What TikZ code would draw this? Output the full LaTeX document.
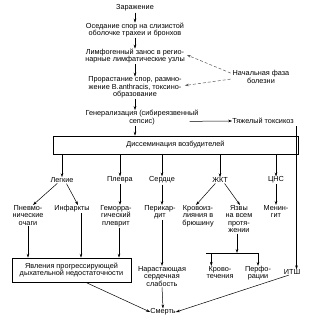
\documentclass[tikz,border=0pt]{standalone}
\usepackage{fontspec}
\setmainfont{Liberation Sans}
\usetikzlibrary{arrows.meta,calc}
\begin{document}
\begin{tikzpicture}[x=1pt,y=-1pt,
  txt/.style={font=\fontsize{7.3}{7.4}\selectfont, align=center, inner sep=0pt},
  arr/.style={-{Stealth[length=4pt,width=2.6pt]}, line width=0.5pt, shorten <=1pt},
  dsh/.style={arr, densely dashed, gray!70!black},
  boxed/.style={txt, draw, line width=0.5pt}
]
\useasboundingbox (0,0) rectangle (309,324);

\node[txt] (zar)  at (135,8)    {Заражение};
\node[txt] (osed) at (135,30)   {Оседание спор на слизистой\\оболочке трахеи и бронхов};
\node[txt] (limf) at (135,56)   {Лимфогенный занос в регио-\\нарные лимфатические узлы};
\node[txt] (pror) at (135,87.5) {Прорастание спор, размно-\\жение B.anthracis, токсино-\\образование};
\node[txt] (nach) at (261,77)   {Начальная фаза\\болезни};
\node[txt] (gen)  at (142,117.5){Генерализация (сибиреязвенный\\сепсис)};
\node[txt] (tox)  at (263,121)  {Тяжелый токсикоз};

\node[boxed, minimum width=245pt, minimum height=18pt] (diss) at (175.5,145) {Диссеминация возбудителей};

\node[txt] (legk) at (62,180)  {Легкие};
\node[txt] (plev) at (120,180) {Плевра};
\node[txt] (serd) at (162,180) {Сердце};
\node[txt] (zhkt) at (220,180) {ЖКТ};
\node[txt] (cns)  at (276,180) {ЦНС};

\node[txt,anchor=north] (pnev)   at (28,205)  {Пневмо-\\нические\\очаги};
\node[txt,anchor=north] (infark) at (72,205)  {Инфаркты};
\node[txt,anchor=north] (gemor)  at (116,205) {Геморра-\\гический\\плеврит};
\node[txt,anchor=north] (perik)  at (160,205) {Перикар-\\дит};
\node[txt,anchor=north] (krov)   at (198,205) {Кровоиз-\\лияния в\\брюшину};
\node[txt,anchor=north] (yazv)   at (239,205) {Язвы\\на всем\\протя-\\жении};
\node[txt,anchor=north] (menin)  at (276,205) {Менин-\\гит};

\node[boxed, minimum width=119pt, minimum height=24pt] (resp) at (71.5,270) {Явления прогрессирующей\\дыхательной недостаточности};
\node[txt,anchor=north] (narast) at (162,266) {Нарастающая\\сердечная\\слабость};
\node[txt,anchor=north] (ktech)  at (220,266) {Крово-\\течения};
\node[txt,anchor=north] (perf)   at (258,266) {Перфо-\\рации};
\node[txt] (itsh)  at (292,272) {ИТШ};
\node[txt] (smert) at (163,312) {Смерть};

\coordinate (tc) at (296.5,125);
\coordinate (bar) at (237,253);

% main chain
\draw[arr] (zar) -- (osed);
\draw[arr] (osed) -- (limf);
\draw[arr] (limf) -- (pror);
\draw[arr] (pror.south) -- (pror.south |- gen.north);
\draw[arr] (pror.south |- gen.south) -- (pror.south |- diss.north);

% initial phase
\draw[dsh] ($(nach.north west)+(-1,3)$) -- ($(limf.east)+(2,-1)$);
\draw[dsh] ($(nach.west)+(-1,2)$) -- ($(pror.east)+(3,-2)$);

% toxicosis
\draw[arr] ($(gen.south east)+(-10,-3.5)$) -- (tox.west);
\draw[arr] (tc) -- (tc |- itsh.north);

% dissemination
\draw[arr] (diss.south -| legk) -- (legk);
\draw[arr] (diss.south -| plev) -- (plev);
\draw[arr] (diss.south -| serd) -- (serd);
\draw[arr] (diss.south -| zhkt) -- (zhkt);
\draw[arr] (diss.south -| cns)  -- (cns);

% organs
\draw[arr] ([xshift=-4pt]legk.south) -- ([xshift=5pt]pnev.north);
\draw[arr] ([xshift=4pt]legk.south) -- ([xshift=6pt]infark.north);
\draw[arr] (plev.south) -- (plev.south |- gemor.north);
\draw[arr] (serd.south) -- (serd.south |- perik.north);
\draw[arr] ([xshift=-4pt]zhkt.south) -- ([xshift=-2pt]krov.north);
\draw[arr] ([xshift=4pt]zhkt.south) -- ([xshift=1pt]yazv.north);
\draw[arr] (cns.south) -- (cns.south |- menin.north);

% consequences
\draw[arr] (pnev.south) -- (pnev.south |- resp.north);
\draw[arr] ([xshift=9pt]infark.south) -- ([xshift=9pt]infark.south |- resp.north);
\draw[arr] ([xshift=3pt]gemor.south) -- ([xshift=3pt]gemor.south |- resp.north);
\draw[arr] (serd.south |- perik.south) -- (serd.south |- narast.north);
\draw[arr] (yazv.south -| bar) -- (bar);
\draw[line width=0.5pt] (bar -| ktech.north west) -- (bar -| perf.north);
\draw[arr, shorten <=0pt] ([xshift=5pt]bar -| ktech.north west) -- ([xshift=5pt]ktech.north west);
\draw[arr, shorten <=0pt] (bar -| perf.north) -- (perf.north);
\draw[line width=0.5pt] ([xshift=5pt]bar -| ktech.north west) -- (bar -| perf.north);

% death
\draw[arr] (narast.south) -- (smert.north);
\draw[arr] ([xshift=14pt]resp.south) -- (smert.west);
\draw[arr] ([xshift=-2pt]itsh.south) -- (smert.east);
\end{tikzpicture}
\end{document}
